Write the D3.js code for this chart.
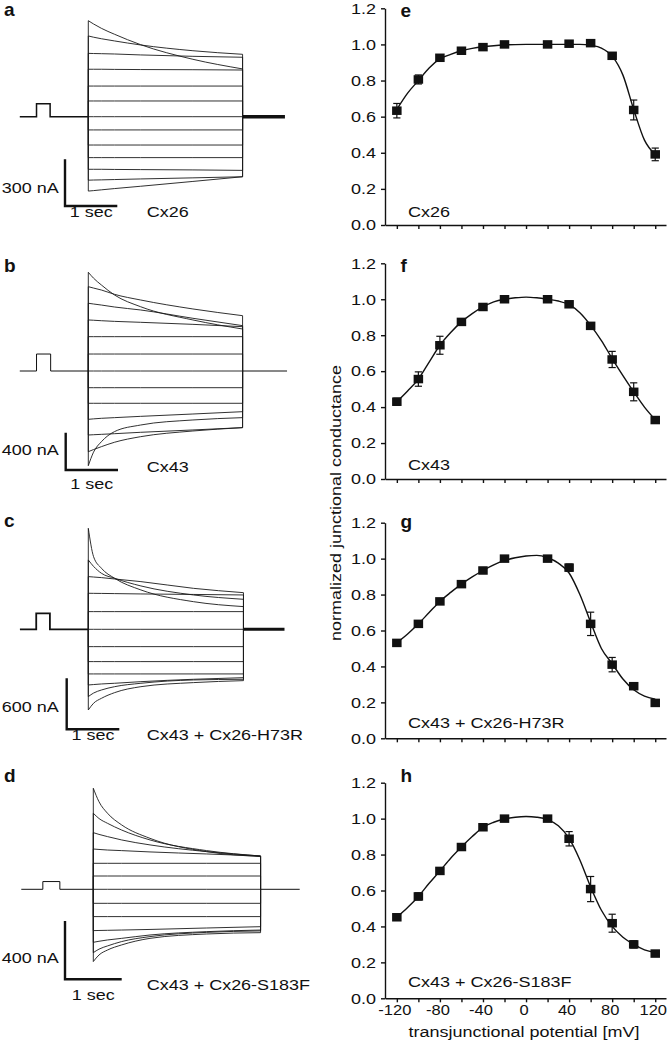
<!DOCTYPE html>
<html>
<head>
<meta charset="utf-8">
<script src="https://cdn.jsdelivr.net/npm/d3@7"></script>
<style>
  body { margin: 0; background: #fff; }
  text { font-family: "Liberation Sans", Arial, sans-serif; fill: #111; }
</style>
</head>
<body>
<script>
// ---------- current traces (nA) at these times after step onset (s) ----------
var traceTimes = [0, 0.1, 0.25, 0.5, 1, 2, 2.95];
var stepEnd = 2.95;

var tracesA = [
  [617, 596, 568, 530, 463, 369, 307],
  [519, 511, 501, 487, 461, 424, 401],
  [407, 406, 405, 403, 397, 388, 382],
  [305, 305, 305, 304, 303, 302, 300],
  [197, 197, 197, 197, 197, 197, 197],
  [101, 101, 101, 101, 101, 101, 101],
  [0, 0, 0, 0, 0, 0, 0],
  [-85, -85, -85, -85, -85, -85, -85],
  [-182, -182, -182, -182, -182, -182, -182],
  [-263, -263, -263, -263, -263, -263, -263],
  [-338, -338, -338, -339, -340, -342, -345],
  [-408, -407, -406, -404, -400, -393, -386],
  [-478, -475, -470, -462, -447, -416, -386]
];
var tracesB = [
  [1058, 995, 922, 815, 689, 547, 450],
  [904, 889, 868, 822, 761, 665, 593],
  [726, 718, 707, 686, 654, 565, 486],
  [547, 544, 539, 532, 522, 500, 475],
  [368, 368, 368, 368, 368, 368, 368],
  [182, 182, 182, 182, 182, 182, 182],
  [0, 0, 0, 0, 0, 0, 0],
  [-179, -179, -179, -179, -179, -179, -179],
  [-346, -346, -346, -346, -346, -346, -346],
  [-518, -513, -507, -500, -486, -461, -436],
  [-686, -683, -679, -672, -657, -632, -607],
  [-865, -842, -811, -764, -704, -643, -607],
  [-1015, -870, -758, -650, -579, -525, -500]
];
var tracesC = [
  [1188, 855, 718, 600, 463, 325, 267],
  [816, 740, 659, 600, 510, 404, 353],
  [620, 615, 608, 592, 561, 482, 431],
  [424, 423, 422, 420, 416, 410, 404],
  [208, 208, 208, 208, 208, 208, 208],
  [0, 0, 0, 0, 0, 0, 0],
  [-204, -204, -204, -204, -204, -204, -204],
  [-380, -380, -380, -380, -380, -380, -380],
  [-525, -525, -525, -525, -525, -525, -525],
  [-655, -650, -643, -635, -616, -588, -569],
  [-792, -750, -714, -675, -635, -596, -588],
  [-949, -870, -812, -745, -675, -627, -604]
];
var tracesD = [
  [692, 600, 521, 441, 349, 258, 224],
  [521, 485, 452, 406, 338, 265, 228],
  [388, 376, 361, 338, 304, 258, 228],
  [276, 273, 269, 265, 256, 242, 228],
  [178, 178, 178, 178, 178, 178, 178],
  [91, 91, 91, 91, 91, 91, 91],
  [0, 0, 0, 0, 0, 0, 0],
  [-96, -96, -96, -96, -96, -96, -96],
  [-187, -187, -187, -187, -187, -187, -187],
  [-283, -282, -281, -279, -275, -265, -256],
  [-363, -356, -347, -336, -313, -290, -279],
  [-434, -410, -388, -358, -324, -295, -285],
  [-495, -450, -416, -381, -336, -306, -297]
];

var scaleBarNA = [300, 400, 600, 400];
var prepulseNA = [84, 182, 188, 53];
var prepulseT = [[-0.99, -0.73], [-0.99, -0.72], [-0.99, -0.73], [-0.89, -0.59]];
var recordT = [[-1.31, 3.76], [-1.31, 3.80], [-1.30, 3.73], [-1.27, 3.64]];
var traceNames = ["Cx26", "Cx43", "Cx43 + Cx26-H73R", "Cx43 + Cx26-S183F"];

// ---------- normalized junctional conductance ----------
var voltages = [-120, -100, -80, -60, -40, -20, 20, 40, 60, 80, 100, 120];
var gE = [0.633, 0.806, 0.926, 0.965, 0.985, 1.0, 1.0, 1.004, 1.007, 0.937, 0.637, 0.391];
var errE = [0.04, 0.025, 0.012, 0.01, 0.01, 0.008, 0.008, 0.01, 0.01, 0.012, 0.055, 0.035];
var gF = [0.43, 0.556, 0.744, 0.874, 0.957, 1.0, 1.0, 0.972, 0.852, 0.665, 0.485, 0.328];
var errF = [0.02, 0.04, 0.05, 0.015, 0.01, 0.01, 0.008, 0.01, 0.015, 0.045, 0.05, 0.015];
var gG = [0.531, 0.637, 0.762, 0.858, 0.934, 1.0, 1.0, 0.95, 0.637, 0.41, 0.29, 0.197];
var errG = [0.01, 0.01, 0.01, 0.01, 0.01, 0.01, 0.01, 0.02, 0.065, 0.04, 0.015, 0.01];
var gH = [0.451, 0.567, 0.709, 0.842, 0.952, 1.0, 1.0, 0.888, 0.608, 0.418, 0.3, 0.249];
var errH = [0.015, 0.02, 0.01, 0.01, 0.01, 0.01, 0.01, 0.04, 0.07, 0.05, 0.02, 0.01];

// fitted Boltzmann curves, read every 10 mV
var fitV = [-120, -110, -100, -90, -80, -70, -60, -50, -40, -30, -20, -10, 0, 10, 20, 30, 40, 50, 60, 70, 80, 90, 100, 110, 120];
var fitE = [0.64, 0.73, 0.80, 0.87, 0.92, 0.945, 0.965, 0.978, 0.987, 0.993, 0.997, 0.999, 1.0, 1.0, 1.0, 1.0, 1.0, 1.0, 0.995, 0.98, 0.935, 0.83, 0.64, 0.47, 0.39];
var fitF = [0.43, 0.49, 0.556, 0.65, 0.744, 0.815, 0.874, 0.92, 0.957, 0.985, 1.0, 1.008, 1.012, 1.008, 1.0, 0.99, 0.97, 0.925, 0.855, 0.77, 0.67, 0.575, 0.485, 0.40, 0.33];
var fitG = [0.531, 0.58, 0.637, 0.70, 0.762, 0.812, 0.858, 0.898, 0.934, 0.965, 0.99, 1.005, 1.015, 1.018, 1.005, 0.975, 0.92, 0.80, 0.646, 0.50, 0.415, 0.33, 0.27, 0.235, 0.218];
var fitH = [0.451, 0.505, 0.567, 0.64, 0.709, 0.78, 0.842, 0.90, 0.952, 0.98, 0.998, 1.008, 1.012, 1.008, 0.995, 0.96, 0.89, 0.77, 0.62, 0.49, 0.40, 0.34, 0.30, 0.27, 0.255];

var yTicks = [0, 0.2, 0.4, 0.6, 0.8, 1.0, 1.2];
var xTicks = [-120, -100, -80, -60, -40, -20, 0, 20, 40, 60, 80, 100, 120];
var xTickLabels = [-120, -80, -40, 0, 40, 80, 120];

var leftLetters = ["a", "b", "c", "d"];
var rightLetters = ["e", "f", "g", "h"];

// ---------- layout ----------
var W = 668, H = 1050;
var stretch = 1.2;      // the figure's lettering is set wide
var tickStretch = 1.1;

var leftPanels = [
  { x0: 88.3, pxSec: 52.3, base: 116.7, pxNA: 0.1556, barX: 65, barY: 206, letterY: 16, nAy: 193.3, secY: 216.7, labY: 216.7, pre: 1.5, tail: 3.6 },
  { x0: 88.3, pxSec: 52.3, base: 371, pxNA: 0.0933, barX: 65.7, barY: 470, letterY: 271.7, nAy: 455, secY: 489, labY: 471.7, pre: 1, tail: 1 },
  { x0: 88.3, pxSec: 52.6, base: 629.3, pxNA: 0.085, barX: 66.7, barY: 729.3, letterY: 527.3, nAy: 711.7, secY: 740, labY: 740, pre: 1.8, tail: 3 },
  { x0: 93.3, pxSec: 56.7, base: 889.3, pxNA: 0.146, barX: 65, barY: 979.3, letterY: 781.7, nAy: 963.3, secY: 1000, labY: 990, pre: 1, tail: 1 }
];
var rightPanels = [
  { y0: 225, y12: 8.3, letterY: 17, labY: 216.7 },
  { y0: 479, y12: 263.3, letterY: 271.7, labY: 470 },
  { y0: 738.3, y12: 522.7, letterY: 528.3, labY: 728.3 },
  { y0: 998.3, y12: 782.7, letterY: 781.7, labY: 986.7 }
];

var svg = d3.select("body")
  .append("svg")
  .attr("width", W)
  .attr("height", H);

svg.append("rect").attr("width", W).attr("height", H).attr("fill", "#fff");

function wideText(parent, str, x, y, size, anchor) {
  return parent.append("text")
    .attr("transform", "translate(" + x + "," + y + ") scale(" + stretch + ",1)")
    .attr("text-anchor", anchor || "start")
    .style("font-size", size + "px")
    .text(str);
}

function letter(str, x, y) {
  svg.append("text")
    .attr("x", x)
    .attr("y", y)
    .style("font-size", "19px")
    .style("font-weight", "bold")
    .text(str);
}

// ---------- left column: current traces ----------
var allTraces = [tracesA, tracesB, tracesC, tracesD];

leftPanels.forEach(function(p, i) {
  var xS = d3.scaleLinear().domain([0, 1]).range([p.x0, p.x0 + p.pxSec]);
  var yS = d3.scaleLinear().domain([0, 1000]).range([p.base, p.base - 1000 * p.pxNA]);
  var g = svg.append("g");

  var curve = d3.line()
    .x(function(d) { return xS(d[0]); })
    .y(function(d) { return yS(d[1]); })
    .curve(d3.curveMonotoneX);
  var straight = d3.line()
    .x(function(d) { return xS(d[0]); })
    .y(function(d) { return yS(d[1]); });

  // holding level with the short prepulse
  var pp = prepulseT[i];
  g.append("path")
    .attr("d", straight([[recordT[i][0], 0], [pp[0], 0], [pp[0], prepulseNA[i]], [pp[1], prepulseNA[i]], [pp[1], 0], [0, 0]]))
    .attr("fill", "none")
    .attr("stroke", "#111")
    .attr("stroke-width", p.pre);
  g.append("path")
    .attr("d", straight([[stepEnd, 0], [recordT[i][1], 0]]))
    .attr("fill", "none")
    .attr("stroke", "#111")
    .attr("stroke-width", p.tail);

  allTraces[i].forEach(function(tr) {
    var pts = traceTimes.map(function(t, k) { return [t, tr[k]]; });
    g.append("path")
      .attr("d", curve(pts))
      .attr("fill", "none")
      .attr("stroke", "#1a1a1a")
      .attr("stroke-width", 0.9);
    // step on / step off edges
    g.append("path")
      .attr("d", straight([[0, 0], [0, tr[0]]]))
      .attr("stroke", "#1a1a1a")
      .attr("stroke-width", 0.9);
    g.append("path")
      .attr("d", straight([[stepEnd, tr[tr.length - 1]], [stepEnd, 0]]))
      .attr("stroke", "#1a1a1a")
      .attr("stroke-width", 0.9);
  });

  // scale bar
  var barH = yS(0) - yS(scaleBarNA[i]);
  var barW = xS(1) - xS(0);
  g.append("path")
    .attr("d", "M" + p.barX + "," + (p.barY - barH) + "V" + p.barY + "H" + (p.barX + barW))
    .attr("fill", "none")
    .attr("stroke", "#111")
    .attr("stroke-width", 2.4);

  wideText(g, scaleBarNA[i] + " nA", 1.7, p.nAy, 15);
  wideText(g, "1 sec", p.barX + barW / 2, p.secY, 15, "middle");
  wideText(g, traceNames[i], 146.7, p.labY, 15);

  letter(leftLetters[i], 4, p.letterY);
});

// ---------- right column: conductance vs transjunctional potential ----------
var gSeries = [gE, gF, gG, gH];
var errSeries = [errE, errF, errG, errH];
var fitSeries = [fitE, fitF, fitG, fitH];

var x = d3.scaleLinear().domain([-131, 130]).range([385, 666]);

rightPanels.forEach(function(p, i) {
  var y = d3.scaleLinear().domain([0, 1.2]).range([p.y0, p.y12]);
  var g = svg.append("g");

  // Eixo Y
  var gy = g.append("g")
    .attr("transform", "translate(385,0)")
    .call(d3.axisLeft(y).tickValues(yTicks).tickFormat(d3.format(".1f")).tickSize(4).tickSizeOuter(0));
  gy.selectAll("text")
    .attr("x", -9 / stretch)
    .attr("transform", "scale(" + stretch + ",1)")
    .style("font-size", "15px")
    .style("font-family", "Liberation Sans, Arial, sans-serif");

  // Eixo X
  var gx = g.append("g")
    .attr("transform", "translate(0," + p.y0 + ")")
    .call(d3.axisBottom(x).tickValues(xTicks).tickSize(4).tickSizeOuter(0)
      .tickFormat(function(d) { return (i === 3 && xTickLabels.indexOf(d) >= 0) ? String(d) : ""; }));
  gx.selectAll("text")
    .attr("y", 6)
    .attr("x", -2.5 / tickStretch)
    .attr("transform", "scale(" + tickStretch + ",1)")
    .style("font-size", "15px")
    .style("font-family", "Liberation Sans, Arial, sans-serif");

  g.selectAll(".domain, .tick line")
    .attr("stroke", "#111")
    .attr("stroke-width", 1.4);

  // fitted curve
  var fitLine = d3.line()
    .x(function(d) { return x(d[0]); })
    .y(function(d) { return y(d[1]); })
    .curve(d3.curveMonotoneX);
  g.append("path")
    .attr("d", fitLine(fitV.map(function(v, k) { return [v, fitSeries[i][k]]; })))
    .attr("fill", "none")
    .attr("stroke", "#111")
    .attr("stroke-width", 1.4);

  var pts = voltages.map(function(v, k) { return { v: v, g: gSeries[i][k], e: errSeries[i][k] }; });

  // barras de erro
  var eb = g.selectAll("g.err")
    .data(pts)
    .enter()
    .append("g")
    .attr("class", "err")
    .attr("stroke", "#111")
    .attr("stroke-width", 1.2);
  eb.append("line")
    .attr("x1", function(d) { return x(d.v); })
    .attr("x2", function(d) { return x(d.v); })
    .attr("y1", function(d) { return y(d.g - d.e); })
    .attr("y2", function(d) { return y(d.g + d.e); });
  eb.append("line")
    .attr("x1", function(d) { return x(d.v) - 3.6; })
    .attr("x2", function(d) { return x(d.v) + 3.6; })
    .attr("y1", function(d) { return y(d.g - d.e); })
    .attr("y2", function(d) { return y(d.g - d.e); });
  eb.append("line")
    .attr("x1", function(d) { return x(d.v) - 3.6; })
    .attr("x2", function(d) { return x(d.v) + 3.6; })
    .attr("y1", function(d) { return y(d.g + d.e); })
    .attr("y2", function(d) { return y(d.g + d.e); });

  // marcadores
  g.selectAll("rect.pt")
    .data(pts)
    .enter()
    .append("rect")
    .attr("class", "pt")
    .attr("x", function(d) { return x(d.v) - 4.75; })
    .attr("y", function(d) { return y(d.g) - 4.25; })
    .attr("width", 9.5)
    .attr("height", 8.5)
    .attr("fill", "#111");

  wideText(g, traceNames[i], 408, p.labY, 15);
  letter(rightLetters[i], 400.5, p.letterY);
});

// axis titles
svg.append("text")
  .attr("transform", "translate(341,503) rotate(-90) scale(" + stretch + ",1)")
  .attr("text-anchor", "middle")
  .style("font-size", "15px")
  .text("normalized junctional conductance");

wideText(svg, "transjunctional potential [mV]", 524, 1037, 15, "middle");
</script>
</body>
</html>
